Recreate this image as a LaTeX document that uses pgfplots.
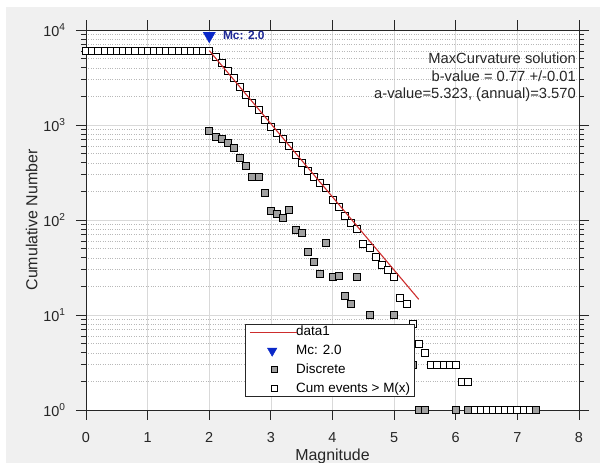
\documentclass[border=0pt]{standalone}
\usepackage{fontspec}
\setmainfont{Liberation Sans}
\usepackage{pgfplots}
\pgfplotsset{compat=1.18}
\definecolor{figbg}{RGB}{240,240,240}
\definecolor{fitred}{RGB}{205,45,45}
\definecolor{mcblue}{RGB}{10,40,200}
\definecolor{mctext}{RGB}{30,40,150}
\definecolor{discgray}{RGB}{160,160,160}
\definecolor{axgray}{RGB}{38,38,38}
\pgfplotsset{
  legblank/.style={legend image code/.code={\path[draw=none,fill=none] (0bp,-6bp) rectangle (47bp,6bp);}},
  legmark/.style={legend image code/.code={\path[draw=none,fill=none] (0bp,-6bp) rectangle (47bp,6bp); \draw[##1] plot coordinates {(#1,0bp)};}},
}

\pgfplotstableread{
M N
0.0 6064
0.1 6064
0.2 6064
0.3 6064
0.4 6064
0.5 6064
0.6 6064
0.7 6064
0.8 6064
0.9 6064
1.0 6064
1.1 6064
1.2 6064
1.3 6064
1.4 6064
1.5 6064
1.6 6064
1.7 6064
1.8 6064
1.9 6064
2.0 6064
2.1 5199
2.2 4457
2.3 3750
2.4 3099
2.5 2530
2.6 2084
2.7 1714
2.8 1428
2.9 1142
3.0 951
3.1 826
3.2 711
3.3 607
3.4 480
3.5 401
3.6 327
3.7 281
3.8 245
3.9 218
4.0 161
4.1 136
4.2 110
4.3 94
4.4 81
4.5 56
4.6 51
4.7 41
4.8 34
4.9 30
5.0 25
5.1 15
5.2 13
5.3 8
5.4 5
5.5 4
5.6 3
5.7 3
5.8 3
5.9 3
6.0 3
6.1 2
6.2 2
6.3 1
6.4 1
6.5 1
6.6 1
6.7 1
6.8 1
6.9 1
7.0 1
7.1 1
7.2 1
7.3 1
}\cumtable

\pgfplotstableread{
M N
2.0 865
2.1 742
2.2 707
2.3 651
2.4 569
2.5 446
2.6 370
2.7 286
2.8 286
2.9 191
3.0 125
3.1 115
3.2 104
3.3 127
3.4 79
3.5 74
3.6 46
3.7 36
3.8 27
3.9 57
4.0 25
4.1 26
4.2 16
4.3 13
4.4 25
4.5 5
4.6 10
4.7 7
4.8 4
4.9 5
5.0 10
5.1 2
5.2 5
5.3 3
5.4 1
5.5 1
6.0 1
6.2 1
7.3 1
}\disctable

\pgfplotstableread{
M N
2.0 6067
5.4 14.6
}\fittable

\begin{document}
\begin{tikzpicture}
\fill[white] (0,0) rectangle (610bp,463bp);
\fill[figbg] (6bp,0) rectangle (600bp,456bp);
\begin{axis}[
  at={(86bp,53bp)}, anchor=south west,
  scale only axis, width=493bp, height=380bp,
  xmin=0, xmax=8, ymode=log, ymin=1, ymax=10000,
  axis background/.style={fill=white},
  xtick={0,1,2,3,4,5,6,7,8},
  ytick={1,10,100,1000,10000},
  yticklabels={10\textsuperscript{0},10\textsuperscript{1},10\textsuperscript{2},10\textsuperscript{3},10\textsuperscript{4}},
  /pgf/number format/assume math mode=true,
  tick align=outside,
  major tick length=10bp, minor tick length=5bp,
  grid=both,
  major grid style={black!15, line width=0.6bp},
  minor grid style={black!28, dotted, line width=0.6bp},
  axis line style={axgray, line width=0.8bp},
  every tick/.style={axgray, line width=0.8bp},
  tick label style={font=\fontsize{14.5}{16}\selectfont, text=axgray},
  xticklabel style={yshift=-9bp},
  yticklabel style={xshift=-7bp},
  xlabel={Magnitude}, ylabel={Cumulative Number},
  label style={font=\fontsize{16}{18}\selectfont, text=axgray},
  xlabel style={at={(axis description cs:0.5,-0.1316)}, anchor=base},
  ylabel style={at={(axis description cs:-0.11,0.5)}, anchor=center},
  legend style={name=leg, at={(0.3225,0.0368)}, anchor=south west, draw=none, fill=white,
    font=\fontsize{13.5}{15}\selectfont, inner xsep=3bp, inner ysep=0.5bp,
    nodes={inner xsep=1bp, inner ysep=0bp, text height=10bp, text depth=3bp}, row sep=6bp},
  legend cell align=left,
]
\addplot[forget plot, only marks, mark=square*, mark size=3.5bp, mark options={fill=white, draw=black, line width=0.8bp}] table[x=M,y=N] {\cumtable};
\addplot[forget plot, only marks, mark=square*, mark size=3.5bp, mark options={fill=discgray, draw=black, line width=0.8bp}] table[x=M,y=N] {\disctable};
\addplot[forget plot, only marks, mark=triangle*, mark size=7bp, mark options={rotate=180, fill=mcblue, draw=mcblue}] coordinates {(2.0,8700)};
\node[anchor=west, font=\bfseries\fontsize{12}{14}\selectfont, text=mctext, inner sep=0pt] at (axis cs:2.22,8860) {Mc: 2.0};
\node[anchor=north east, align=right, inner sep=0pt, font=\fontsize{14.8}{17.5}\selectfont, text=axgray] at (rel axis cs:0.994,0.9395) {MaxCurvature solution\\b-value = 0.77 +/-0.01\\a-value=5.323, (annual)=3.570};

\addlegendimage{legblank}
\addlegendentry{data1}
\addlegendimage{only marks, mark=triangle*, mark size=5.5bp, mark options={rotate=180, fill=mcblue, draw=mcblue}, legmark=24bp}
\addlegendentry{Mc: 2.0}
\addlegendimage{only marks, mark=square*, mark size=3bp, mark options={fill=discgray, draw=black, line width=0.8bp}, legmark=26bp}
\addlegendentry{Discrete}
\addlegendimage{only marks, mark=square*, mark size=3bp, mark options={fill=white, draw=black, line width=0.8bp}, legmark=26bp}
\addlegendentry{Cum events > M(x)}
\end{axis}
\draw[axgray, line width=0.8bp] (leg.south west) rectangle (leg.north east);
\draw[draw=fitred, line width=1.1bp] ([xshift=5bp,yshift=-8bp]leg.north west) -- ++(47bp,0bp);
\begin{axis}[
  at={(86bp,53bp)}, anchor=south west,
  scale only axis, width=493bp, height=380bp,
  xmin=0, xmax=8, ymode=log, ymin=1, ymax=10000,
  hide axis,
]
\addplot[draw=fitred, line width=1.1bp] table[x=M,y=N] {\fittable};
\end{axis}
\pgfresetboundingbox
\useasboundingbox (0,0) rectangle (610bp,463bp);
\end{tikzpicture}
\end{document}
